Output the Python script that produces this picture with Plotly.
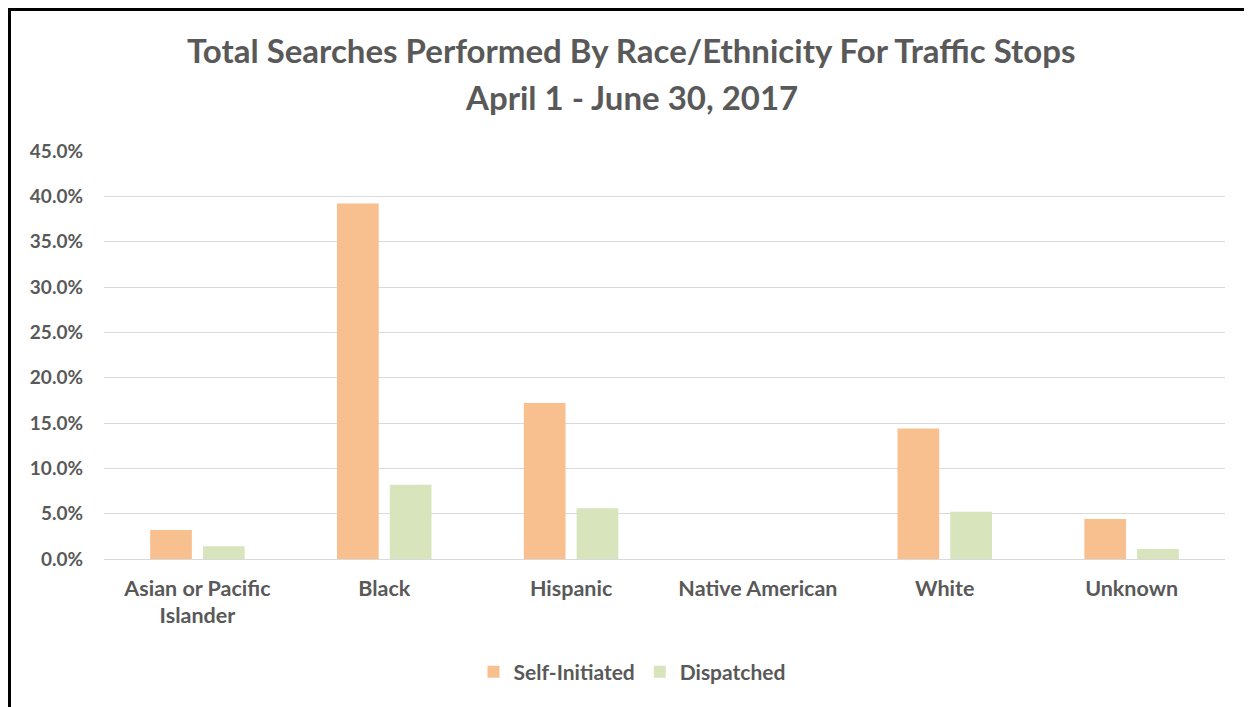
import plotly.graph_objects as go

# search shares by race/ethnicity, Apr 1 - Jun 30 2017
categories = [
    "Asian or Pacific<br>Islander",
    "Black",
    "Hispanic",
    "Native American",
    "White",
    "Unknown",
]
self_initiated = [0.032, 0.392, 0.172, 0.0, 0.144, 0.044]
dispatched = [0.014, 0.082, 0.056, 0.0, 0.052, 0.011]

TEXT = "#595959"
FONT = "Lato"

# the page body adds an 8px offset, so the layout is shifted back by that much
OFF = 8
W, H = 1252, 707
PX0, PX1 = 104 - OFF, 1225 - OFF   # plot area, x
PY0, PY1 = 151 - OFF, 559 - OFF    # plot area, y (top, bottom)


def px_x(x):
    return (x - OFF - PX0) / (PX1 - PX0)


def px_y(y):
    return (PY1 - (y - OFF)) / (PY1 - PY0)


fig = go.Figure()
fig.add_trace(go.Bar(name="Self-Initiated", x=categories, y=self_initiated,
                     marker=dict(color="#F9C08F", line_width=0)))
fig.add_trace(go.Bar(name="Dispatched", x=categories, y=dispatched,
                     marker=dict(color="#D8E4BC", line_width=0)))

fig.update_layout(
    width=W,
    height=H,
    margin=dict(l=PX0, r=W - PX1, t=PY0, b=H - PY1),
    paper_bgcolor="white",
    plot_bgcolor="white",
    barmode="group",
    bargap=0.435,
    bargroupgap=0.21,
    font=dict(family=FONT, color=TEXT),
    showlegend=True,
    legend=dict(
        orientation="h",
        x=px_x(632), xanchor="center",
        y=px_y(672), yanchor="middle",
        font=dict(size=21, family=FONT, color=TEXT, weight="bold"),
        traceorder="normal",
    ),
)

fig.add_annotation(
    text="<b>Total Searches Performed By Race/Ethnicity For Traffic Stops</b>",
    xref="paper", yref="paper",
    x=px_x(631), y=px_y(50),
    xanchor="center", yanchor="middle",
    showarrow=False,
    font=dict(size=33, family=FONT, color=TEXT),
)
fig.add_annotation(
    text="<b>April 1 - June 30, 2017</b>",
    xref="paper", yref="paper",
    x=px_x(631), y=px_y(97),
    xanchor="center", yanchor="middle",
    showarrow=False,
    font=dict(size=33, family=FONT, color=TEXT),
)

fig.update_xaxes(
    showgrid=False,
    showline=False,
    ticks="",
    ticklabelstandoff=14,
    tickfont=dict(size=21.5, family=FONT, color=TEXT, weight="bold"),
)
fig.update_yaxes(
    range=[0, 0.45],
    dtick=0.05,
    tickformat=".1%",
    showgrid=True,
    gridcolor="#D9D9D9",
    gridwidth=1.3,
    zeroline=True,
    zerolinecolor="#D9D9D9",
    zerolinewidth=1.3,
    showline=False,
    ticks="",
    ticklabelstandoff=20,
    tickfont=dict(size=19, family=FONT, color=TEXT, weight="bold"),
)

# black frame: only the top and left edges fall inside the picture
frame = dict(color="black", width=3)
fig.add_shape(type="line", xref="paper", yref="paper",
              x0=px_x(8), x1=px_x(1300), y0=px_y(9.5), y1=px_y(9.5),
              line=frame, layer="above")
fig.add_shape(type="line", xref="paper", yref="paper",
              x0=px_x(9.5), x1=px_x(9.5), y0=px_y(8), y1=px_y(800),
              line=frame, layer="above")

fig.write_html("out.html")
